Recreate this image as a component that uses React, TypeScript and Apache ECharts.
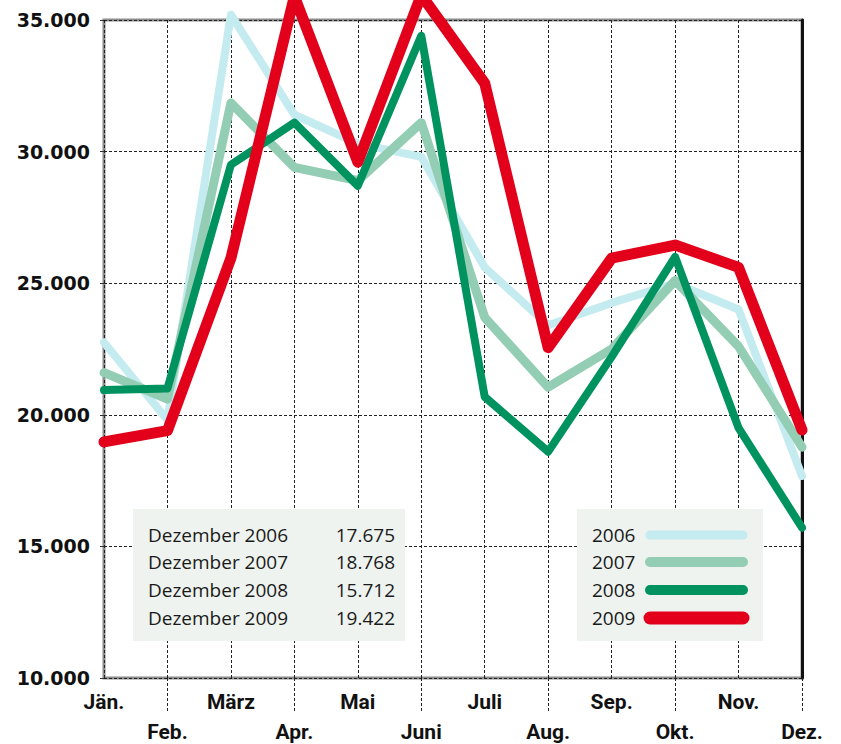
import React, { useEffect, useRef } from "react";
import * as echarts from "echarts";

const months = ["Jän.", "Feb.", "März", "Apr.", "Mai", "Juni", "Juli", "Aug.", "Sep.", "Okt.", "Nov.", "Dez."];
const years = ["2006", "2007", "2008", "2009"];
const s2006 = [22750, 19800, 35200, 31400, 30300, 29800, 25600, 23400, 24250, 25000, 24000, 17675];
const s2007 = [21600, 20600, 31850, 29400, 28900, 31100, 23700, 21050, 22500, 25100, 22600, 18768];
const s2008 = [20940, 21000, 29500, 31100, 28700, 34400, 20680, 18600, 22200, 26000, 19500, 15712];
const s2009 = [18970, 19400, 25950, 35900, 29600, 35950, 32600, 22550, 25950, 26450, 25600, 19422];
const decLabels = ["Dezember 2006", "Dezember 2007", "Dezember 2008", "Dezember 2009"];
const decValues = [17675, 18768, 15712, 19422];
const yTicks = { min: 10000, max: 35000, interval: 5000 };

const colors = ["#c4ebef", "#93cdb3", "#00935f", "#e3001b"];
const widths = [8, 9, 8, 11];
const legendWidths = [9, 10, 10, 13];

const fmt = (v: number) => {
  const s = String(Math.round(v));
  return s.replace(/\B(?=(\d{3})+(?!\d))/g, ".");
};

export default function App() {
  const ref = useRef<HTMLDivElement>(null);
  useEffect(() => {
    document.body.style.margin = "0";
    const chart = echarts.init(ref.current!, undefined, { renderer: "svg" });
    const seriesData = [s2006, s2007, s2008, s2009];
    const gridLine = { color: "#222", type: [3, 2] as any, width: 1 };
    const rowY = [535, 562, 590, 618];
    const graphics: any[] = [
      { type: "rect", shape: { x: 133, y: 509, width: 272, height: 132 }, style: { fill: "#eef3ef" }, z: 10 },
      { type: "rect", shape: { x: 577, y: 509, width: 186, height: 132 }, style: { fill: "#eef3ef" }, z: 10 },
    ];
    decLabels.forEach((l, i) => {
      graphics.push({
        type: "text", x: 148, y: rowY[i], z: 11,
        style: { text: l, fontFamily: "Open Sans", fontSize: 19, fill: "#1a1a1a", verticalAlign: "middle", align: "left" },
      });
      graphics.push({
        type: "text", x: 395, y: rowY[i], z: 11,
        style: { text: fmt(decValues[i]), fontFamily: "Open Sans", fontSize: 19, fill: "#1a1a1a", verticalAlign: "middle", align: "right" },
      });
    });
    years.forEach((y, i) => {
      graphics.push({
        type: "text", x: 592, y: rowY[i], z: 11,
        style: { text: y, fontFamily: "Open Sans", fontSize: 19, fill: "#1a1a1a", verticalAlign: "middle", align: "left" },
      });
      graphics.push({
        type: "line", z: 11,
        shape: { x1: 650, y1: rowY[i], x2: 743, y2: rowY[i] },
        style: { stroke: colors[i], lineWidth: legendWidths[i], lineCap: "round" },
      });
    });

    const xFont = { fontFamily: "Roboto", fontWeight: "bold", fontSize: 21, color: "#111" };
    chart.setOption({
      animation: false,
      grid: { left: 104, right: 39, top: 20, bottom: 66, show: true, borderColor: "#8c8c8c", borderWidth: 3, backgroundColor: "transparent" },
      xAxis: {
        type: "category",
        data: months,
        boundaryGap: false,
        axisLine: { show: false },
        axisTick: { show: true, interval: (i: number) => i % 2 === 1, length: 34, lineStyle: gridLine },
        splitLine: { show: true, interval: 0, lineStyle: gridLine },
        axisLabel: {
          interval: 0,
          margin: 13,
          formatter: (v: string, i: number) => (i % 2 === 0 ? `{a|${v}}` : `{b|${v}}`),
          rich: {
            a: { ...xFont },
            b: { ...xFont, padding: [30, 0, 0, 0] },
          },
        },
      },
      yAxis: [
        {
          type: "value",
          ...yTicks,
          axisLine: { show: false },
          axisTick: { show: true, length: 4, lineStyle: { color: "#333" } },
          splitLine: { show: true, lineStyle: gridLine },
          axisLabel: { formatter: fmt, fontFamily: "DejaVu Sans", fontWeight: "bold", fontSize: 19, color: "#111", margin: 14 },
        },
        {
          type: "value",
          position: "right",
          ...yTicks,
          axisLine: { show: true, lineStyle: { color: "#111", width: 3 } },
          axisTick: { show: false },
          axisLabel: { show: false },
          splitLine: { show: false },
        },
      ],
      series: years.map((y, i) => ({
        name: y,
        type: "line",
        data: seriesData[i],
        symbol: "none",
        clip: false,
        silent: true,
        z: 2 + i,
        lineStyle: { color: colors[i], width: widths[i], cap: "round", join: "round" },
      })),
      graphic: graphics,
    });
    return () => chart.dispose();
  }, []);
  return <div ref={ref} style={{ width: 841, height: 744 }} />;
}
